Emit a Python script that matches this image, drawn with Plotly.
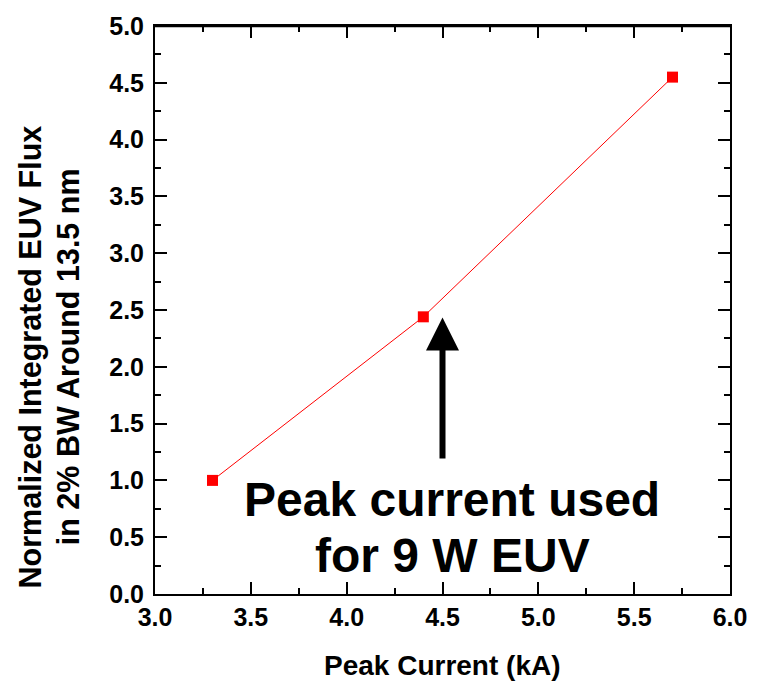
import plotly.graph_objects as go

peak_current = [3.3, 4.4, 5.7]
flux = [1.0, 2.44, 4.55]
x_ticks = [3.0, 3.5, 4.0, 4.5, 5.0, 5.5, 6.0]
y_ticks = [0.0, 0.5, 1.0, 1.5, 2.0, 2.5, 3.0, 3.5, 4.0, 4.5, 5.0]
arrow_x = 4.5
arrow_tip_y = 2.435
arrow_tail_y = 1.18
note_lines = ["Peak current used", "for 9 W EUV"]
note_x = 4.551
note_y = [0.832, 0.335]
y_title_lines = ["Normalized Integrated EUV Flux", "in 2% BW Around 13.5 nm"]
x_title = "Peak Current (kA)"

FONT = "Liberation Sans, Arial, sans-serif"

fig = go.Figure()
fig.add_trace(go.Scatter(
    x=peak_current, y=flux, mode="lines+markers",
    line=dict(color="#ff0000", width=1),
    marker=dict(symbol="square", size=11, color="#ff0000"),
    showlegend=False,
))

axis_common = dict(
    showline=True, linecolor="black", linewidth=2, mirror="ticks",
    ticks="inside", ticklen=12, tickwidth=2, tickcolor="black",
    showgrid=False, zeroline=False,
    tickfont=dict(family=FONT, size=25, color="black", weight="bold"),
    minor=dict(ticks="inside", ticklen=6, tickwidth=2, tickcolor="black", showgrid=False),
)

fig.update_xaxes(range=[3.0, 6.0], tickvals=x_ticks,
                 ticktext=[f"{v:.1f}" for v in x_ticks],
                 minor_dtick=0.25,
                 **axis_common)
fig.update_yaxes(range=[0.0, 5.0], tickvals=y_ticks,
                 ticktext=[f"{v:.1f}" for v in y_ticks],
                 minor_dtick=0.25, ticklabelstandoff=4,
                 **axis_common)

# plot frame (top edge drawn explicitly)
fig.add_shape(type="line", xref="paper", yref="paper", x0=0, y0=1, x1=1, y1=1,
              line=dict(color="black", width=2.5), layer="above")

title_font = dict(family=FONT, size=30.5, color="black", weight="bold")
for xp, line in zip([-0.2165, -0.1508], y_title_lines):
    fig.add_annotation(
        xref="paper", yref="paper", x=xp, y=0.4174,
        xanchor="center", yanchor="middle",
        text=line, textangle=-90, showarrow=False, font=title_font,
    )

fig.add_annotation(
    xref="paper", yref="paper", x=0.5, y=-0.1264,
    xanchor="center", yanchor="middle",
    text=x_title, showarrow=False,
    font=dict(family=FONT, size=28, color="black", weight="bold"),
)

fig.add_annotation(
    x=arrow_x, y=arrow_tip_y, ax=arrow_x, ay=arrow_tail_y,
    xref="x", yref="y", axref="x", ayref="y",
    text="", showarrow=True, arrowhead=2, arrowsize=1.1, arrowwidth=6,
    arrowcolor="black",
)

for yv, line in zip(note_y, note_lines):
    fig.add_annotation(
        x=note_x, y=yv, xref="x", yref="y",
        xanchor="center", yanchor="middle",
        text=line, showarrow=False,
        font=dict(family=FONT, size=48, color="black", weight="bold"),
    )

fig.update_layout(
    width=762, height=682,
    margin=dict(l=154.5, r=32, t=20.7, b=87.5),
    paper_bgcolor="white", plot_bgcolor="white",
)

fig.write_html("out.html", config={"displayModeBar": False},
               post_script="document.body.style.margin='0';document.body.style.overflow='hidden';")
